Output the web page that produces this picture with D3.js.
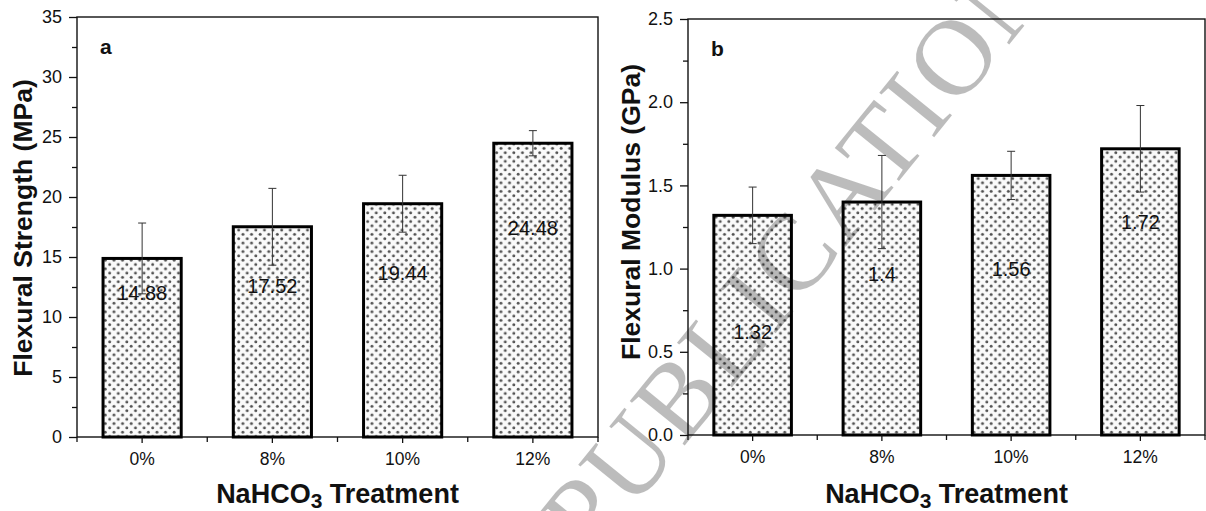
<!DOCTYPE html>
<html>
<head>
<meta charset="utf-8">
<script src="https://cdn.jsdelivr.net/npm/d3@7"></script>
<style>
  body { margin: 0; background: #fff; }
  svg text { font-family: "Liberation Sans", Arial, sans-serif; fill: #111; }
</style>
</head>
<body>
<div id="chart"></div>
<script>
const categories = ["0%", "8%", "10%", "12%"];

const strength = [14.88, 17.52, 19.44, 24.48];
const strengthErr = [2.95, 3.2, 2.37, 1.05];
const strengthLabelAt = [12.0, 12.6, 13.7, 17.4]; // where Origin put the value labels (MPa)

const modulus = [1.32, 1.4, 1.56, 1.72];
const modulusErr = [0.17, 0.28, 0.145, 0.26];
const modulusLabelAt = [0.62, 0.97, 1.0, 1.28];

const strengthTicks = [0, 5, 10, 15, 20, 25, 30, 35];
const modulusTicks = [0, 0.5, 1.0, 1.5, 2.0, 2.5];

let width = 1206, height = 511;

let svg = d3.select("#chart")
.append("svg")
.attr("width", width)
.attr("height", height);

// dotted fill like the Origin pattern
let tile = 8.6;
let pat = svg.append("defs").append("pattern")
.attr("id", "dots")
.attr("patternUnits", "userSpaceOnUse")
.attr("width", tile)
.attr("height", tile);
pat.append("rect").attr("width", tile).attr("height", tile).attr("fill", "#fafafa");
pat.append("circle").attr("cx", tile / 4).attr("cy", tile / 4).attr("r", 1.45).attr("fill", "#505050");
pat.append("circle").attr("cx", tile * 3 / 4).attr("cy", tile * 3 / 4).attr("r", 1.45).attr("fill", "#505050");

function drawPanel(p) {
  let x = d3.scaleBand()
  .domain(categories)
  .range([p.left, p.right])
  .paddingInner(0.4)
  .paddingOuter(0.2);

  let y = d3.scaleLinear()
  .domain([0, p.max])
  .range([p.bottom, p.top]);

  let g = svg.append("g");

  // frame
  g.append("rect")
  .attr("x", p.left).attr("y", p.top)
  .attr("width", p.right - p.left).attr("height", p.bottom - p.top)
  .attr("fill", "none").attr("stroke", "#111").attr("stroke-width", 1.4);

  // bars
  g.selectAll(".bar")
  .data(p.values)
  .enter().append("rect")
  .attr("class", "bar")
  .attr("x", (d, i) => x(categories[i]))
  .attr("y", d => y(d))
  .attr("width", x.bandwidth())
  .attr("height", d => y(0) - y(d))
  .attr("fill", "url(#dots)")
  .attr("stroke", "#000")
  .attr("stroke-width", 3);

  // error bars
  let eb = g.selectAll(".err")
  .data(p.values)
  .enter().append("g")
  .attr("class", "err")
  .attr("stroke", "#333")
  .attr("stroke-width", 1);
  eb.append("line")
  .attr("x1", (d, i) => x(categories[i]) + x.bandwidth() / 2)
  .attr("x2", (d, i) => x(categories[i]) + x.bandwidth() / 2)
  .attr("y1", (d, i) => y(d + p.err[i]))
  .attr("y2", (d, i) => y(d - p.err[i]));
  eb.selectAll(".cap")
  .data((d, i) => [d + p.err[i], d - p.err[i]].map(v => ({v: v, i: i})))
  .enter().append("line")
  .attr("x1", d => x(categories[d.i]) + x.bandwidth() / 2 - 4)
  .attr("x2", d => x(categories[d.i]) + x.bandwidth() / 2 + 4)
  .attr("y1", d => y(d.v))
  .attr("y2", d => y(d.v));

  // value labels
  g.selectAll(".val")
  .data(p.values)
  .enter().append("text")
  .attr("class", "val")
  .attr("x", (d, i) => x(categories[i]) + x.bandwidth() / 2)
  .attr("y", (d, i) => y(p.labelAt[i]))
  .attr("dy", "0.36em")
  .attr("text-anchor", "middle")
  .style("font-size", "20px")
  .text(d => d);

  // y axis, major + minor
  let yAxis = g.append("g")
  .attr("transform", "translate(" + p.left + ",0)")
  .call(d3.axisLeft(y).tickValues(p.ticks).tickSize(8).tickPadding(7).tickFormat(p.fmt));
  yAxis.select(".domain").remove();
  yAxis.selectAll("text").style("font-size", "18px").attr("fill", "#111");
  yAxis.selectAll("line").attr("stroke", "#111").attr("stroke-width", 1.3);

  let minor = p.ticks.slice(0, -1).map(t => t + p.ticks[1] / 2);
  let yMinor = g.append("g")
  .attr("transform", "translate(" + p.left + ",0)")
  .call(d3.axisLeft(y).tickValues(minor).tickSize(5).tickFormat(""));
  yMinor.select(".domain").remove();
  yMinor.selectAll("line").attr("stroke", "#111").attr("stroke-width", 1.3);

  // x axis: ticks at centers, small ticks between bars
  let xAxis = g.append("g")
  .attr("transform", "translate(0," + p.bottom + ")")
  .call(d3.axisBottom(x).tickSize(6).tickPadding(10));
  xAxis.select(".domain").remove();
  xAxis.selectAll("text").style("font-size", "17.5px").attr("fill", "#111");
  xAxis.selectAll("line").attr("stroke", "#111").attr("stroke-width", 1.3);

  let edges = d3.range(categories.length + 1).map(i => p.left + i * x.step());
  g.selectAll(".edge")
  .data(edges)
  .enter().append("line")
  .attr("x1", d => d).attr("x2", d => d)
  .attr("y1", p.bottom).attr("y2", p.bottom + 5)
  .attr("stroke", "#111").attr("stroke-width", 1.3);

  // titles
  g.append("text")
  .attr("transform", "translate(" + p.yTitleX + "," + p.yTitleY + ") rotate(-90)")
  .attr("text-anchor", "middle")
  .style("font-size", "26.5px")
  .style("font-weight", "bold")
  .text(p.yTitle);

  let xt = g.append("text")
  .attr("x", (p.left + p.right) / 2)
  .attr("y", 503)
  .attr("text-anchor", "middle")
  .style("font-size", "27px")
  .style("font-weight", "bold");
  xt.append("tspan").text("NaHCO");
  xt.append("tspan").attr("dy", 5).style("font-size", "21px").text("3");
  xt.append("tspan").attr("dy", -5).text(" Treatment");

  g.append("text")
  .attr("x", p.left + 23)
  .attr("y", p.top + 37)
  .style("font-size", "21px")
  .style("font-weight", "bold")
  .text(p.tag);
}

drawPanel({
  left: 77, right: 598, top: 17, bottom: 437,
  max: 35, ticks: strengthTicks, fmt: d3.format("d"),
  values: strength, err: strengthErr, labelAt: strengthLabelAt,
  yTitle: "Flexural Strength (MPa)", yTitleX: 32, yTitleY: 228, tag: "a"
});

drawPanel({
  left: 688, right: 1205, top: 19, bottom: 435,
  max: 2.5, ticks: modulusTicks, fmt: d3.format(".1f"),
  values: modulus, err: modulusErr, labelAt: modulusLabelAt,
  yTitle: "Flexural Modulus (GPa)", yTitleX: 640, yTitleY: 212, tag: "b"
});

// faint diagonal watermark over everything
svg.append("text")
.attr("transform", "translate(592,560) rotate(-51)")
.style("font-family", "'Liberation Serif', 'DejaVu Serif', serif")
.style("font-size", "108px")
.style("letter-spacing", "3px")
.attr("fill", "#c8c8c8")
.attr("opacity", 0.28)
.text("PUBLICATION");
</script>
</body>
</html>
